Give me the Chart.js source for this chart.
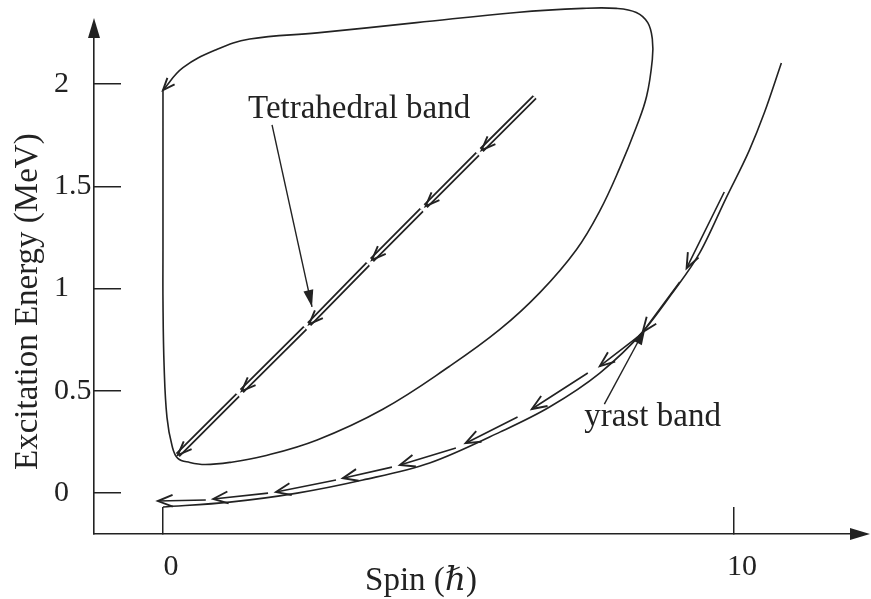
<!DOCTYPE html>
<html>
<head>
<meta charset="utf-8">
<script src="https://cdn.jsdelivr.net/npm/chart.js@4.4.1/dist/chart.umd.min.js"></script>
<style>
  html, body { margin: 0; padding: 0; background: #ffffff; }
  #wrap { width: 871px; height: 599px; }
</style>
</head>
<body>
<div id="wrap"><canvas id="c" width="871" height="599"></canvas></div>
<script>
// Spin (hbar) and excitation energy (MeV) along each band

// closed loop around the tetrahedral band
const loopSpin   = [0, 0, 0, 0, 0.02, 0.07, 0.16, 0.26, 0.47, 0.74, 1.17, 1.75, 2.70, 3.85, 5.02, 5.90, 6.60, 7.24, 7.65, 8.00, 8.29, 8.47, 8.57, 8.57, 8.49, 8.29, 7.94, 7.35, 6.19, 4.44, 2.70, 1.52, 0.95, 0.35, 0];
const loopEnergy = [1.97, 1.68, 1.19, 0.94, 0.62, 0.37, 0.23, 0.17, 0.15, 0.14, 0.15, 0.18, 0.26, 0.41, 0.62, 0.80, 0.98, 1.19, 1.38, 1.59, 1.79, 1.94, 2.12, 2.22, 2.30, 2.35, 2.37, 2.37, 2.35, 2.30, 2.25, 2.22, 2.17, 2.08, 1.97];

// yrast band
const yrastSpin   = [0, 1.17, 2.35, 3.50, 4.67, 5.90, 6.77, 7.65, 8.40, 8.92, 9.40, 9.87, 10.27, 10.53, 10.83];
const yrastEnergy = [-0.068, -0.044, 0.0, 0.064, 0.147, 0.298, 0.421, 0.587, 0.787, 0.978, 1.174, 1.447, 1.677, 1.858, 2.103];

// tetrahedral band, drawn as arrowed pieces (upper end -> lower end)
const tetraFromSpin   = [6.51, 5.51, 4.53, 3.59, 2.49, 1.31];
const tetraFromEnergy = [1.936, 1.658, 1.384, 1.120, 0.807, 0.479];
const tetraToSpin     = [5.58, 4.60, 3.66, 2.56, 1.38, 0.26];
const tetraToEnergy   = [1.677, 1.403, 1.140, 0.826, 0.499, 0.186];

// decay path beside the yrast band
const trackFromSpin   = [9.83, 9.05, 8.31, 7.44, 6.21, 5.13, 4.01, 3.03, 1.84, 0.75];
const trackFromEnergy = [1.472, 1.032, 0.763, 0.587, 0.372, 0.220, 0.127, 0.064, 0.000, -0.034];
const trackToSpin     = [9.17, 8.40, 7.65, 6.46, 5.30, 4.15, 3.15, 1.98, 0.88, -0.09];
const trackToEnergy   = [1.100, 0.787, 0.621, 0.411, 0.244, 0.137, 0.073, 0.005, -0.029, -0.039];

// label pointers and label anchors
const tetraPointerSpin   = [1.91, 2.61];
const tetraPointerEnergy = [1.80, 0.91];
const yrastPointerSpin   = [7.73, 8.45];
const yrastPointerEnergy = [0.435, 0.807];
const bandLabels      = ['Tetrahedral band', 'yrast band'];
const bandLabelSpin   = [1.49, 7.38];
const bandLabelEnergy = [1.834, 0.328];

// axes
const xTickValues = [0, 10];
const xTickLabels = ['0', '10'];
const yTickValues = [0, 0.5, 1, 1.5, 2];
const yTickLabels = ['0', '0.5', '1', '1.5', '2'];
const xTitle = 'Spin (\u210F)';
const yTitle = 'Excitation Energy (MeV)';

const INK = '#222222';
const SERIF = '"Liberation Serif", "DejaVu Serif", serif';

const pairs = (xs, ys) => xs.map((v, i) => ({ x: v, y: ys[i] }));
function pieces(fx, fy, tx, ty) {
  const out = [];
  fx.forEach((v, i) => {
    if (i > 0) out.push({ x: null, y: null });
    out.push({ x: v, y: fy[i] }, { x: tx[i], y: ty[i] });
  });
  return out;
}

const tetraData = pieces(tetraFromSpin, tetraFromEnergy, tetraToSpin, tetraToEnergy);

const datasets = [
  { data: tetraData, borderColor: '#ffffff', borderWidth: 2, order: 0, tension: 0, borderCapStyle: 'butt' },
  { data: tetraData, borderColor: INK, borderWidth: 5.6, order: 1, tension: 0, borderCapStyle: 'butt', arrowHead: 'open', arrowLen: 15 },
  { data: pairs(loopSpin, loopEnergy), borderColor: INK, borderWidth: 1.6, order: 2, tension: 0.4, arrowHead: 'open', arrowLen: 13 },
  { data: pairs(yrastSpin, yrastEnergy), borderColor: INK, borderWidth: 1.6, order: 2, cubicInterpolationMode: 'monotone' },
  { data: pieces(trackFromSpin, trackFromEnergy, trackToSpin, trackToEnergy), borderColor: INK, borderWidth: 1.6, order: 2, tension: 0, arrowHead: 'open', arrowLen: 16 },
  { data: pairs(tetraPointerSpin, tetraPointerEnergy), borderColor: INK, borderWidth: 1.4, order: 2, tension: 0, arrowHead: 'filled', arrowLen: 17 },
  { data: pairs(yrastPointerSpin, yrastPointerEnergy), borderColor: INK, borderWidth: 1.4, order: 2, tension: 0, arrowHead: 'filled', arrowLen: 17 }
];
datasets.forEach(d => { d.pointRadius = 0; d.clip = false; d.fill = false; d.spanGaps = false; });

function drawOpen(ctx, tx, ty, ang, len, spread) {
  ctx.beginPath();
  ctx.moveTo(tx + len * Math.cos(ang - spread), ty + len * Math.sin(ang - spread));
  ctx.lineTo(tx, ty);
  ctx.lineTo(tx + len * Math.cos(ang + spread), ty + len * Math.sin(ang + spread));
  ctx.stroke();
}
function drawFilled(ctx, tx, ty, ang, len, half) {
  const bx = tx + len * Math.cos(ang), by = ty + len * Math.sin(ang);
  const nx = -Math.sin(ang) * half, ny = Math.cos(ang) * half;
  ctx.beginPath();
  ctx.moveTo(tx, ty);
  ctx.lineTo(bx + nx, by + ny);
  ctx.lineTo(bx - nx, by - ny);
  ctx.closePath();
  ctx.fill();
}

const decor = {
  id: 'decor',
  afterDatasetsDraw(chart) {
    const { ctx, chartArea: a, scales: { x, y } } = chart;
    ctx.save();
    ctx.strokeStyle = INK;
    ctx.fillStyle = INK;
    ctx.lineWidth = 1.9;
    ctx.lineJoin = 'miter';

    // axis arrowheads
    drawFilled(ctx, a.left, a.top - 20, Math.PI / 2, 20, 6);
    drawFilled(ctx, a.right + 18, a.bottom, Math.PI, 20, 6);

    // arrowheads at the lower end of every drawn piece
    chart.data.datasets.forEach((ds, di) => {
      if (!ds.arrowHead) return;
      const pts = chart.getDatasetMeta(di).data;
      for (let i = 1; i < pts.length; i++) {
        const p = pts[i], q = pts[i - 1], n = pts[i + 1];
        if (p.skip || q.skip) continue;
        if (n && !n.skip) continue;
        const ang = Math.atan2(q.y - p.y, q.x - p.x);
        if (ds.arrowHead === 'filled') drawFilled(ctx, p.x, p.y, ang, ds.arrowLen, 5);
        else drawOpen(ctx, p.x, p.y, ang, ds.arrowLen, 0.38);
      }
    });

    // band labels
    ctx.font = '33px ' + SERIF;
    ctx.textAlign = 'left';
    ctx.textBaseline = 'alphabetic';
    bandLabels.forEach((t, i) => {
      ctx.fillText(t, x.getPixelForValue(bandLabelSpin[i]), y.getPixelForValue(bandLabelEnergy[i]));
    });

    // axis titles
    ctx.textAlign = 'center';
    ctx.fillText(xTitle, x.getPixelForValue(4.52), a.bottom + 56);
    ctx.translate(37, y.getPixelForValue(0.936));
    ctx.rotate(-Math.PI / 2);
    ctx.fillText(yTitle, 0, 0);
    ctx.restore();
  }
};

new Chart(document.getElementById('c'), {
  type: 'line',
  data: { datasets },
  plugins: [decor],
  options: {
    responsive: false,
    animation: false,
    devicePixelRatio: 1,
    layout: { padding: { left: 54, top: 38, right: 19, bottom: 0 } },
    elements: { line: { capBezierPoints: false } },
    plugins: { legend: { display: false }, tooltip: { enabled: false } },
    scales: {
      x: {
        type: 'linear',
        min: -1.208,
        max: 12.067,
        afterFit: s => { s.height = 65; },
        afterBuildTicks: s => { s.ticks = xTickValues.map(v => ({ value: v })); },
        grid: { display: true, drawOnChartArea: false, drawTicks: true, tickLength: -27, color: INK, lineWidth: 1.5 },
        border: { display: true, color: INK, width: 1.6 },
        ticks: {
          autoSkip: false, maxRotation: 0, padding: 42, labelOffset: 8, color: INK,
          font: { family: SERIF, size: 30 },
          callback: (v) => xTickLabels[xTickValues.indexOf(v)]
        }
      },
      y: {
        type: 'linear',
        min: -0.2,
        max: 2.225,
        afterFit: s => { s.width = 40; },
        afterBuildTicks: s => { s.ticks = yTickValues.map(v => ({ value: v })); },
        grid: { display: true, drawOnChartArea: false, drawTicks: true, tickLength: -27, color: INK, lineWidth: 1.5 },
        border: { display: true, color: INK, width: 1.6 },
        ticks: {
          autoSkip: false, crossAlign: 'far', color: INK,
          font: { family: SERIF, size: 30 },
          callback: (v) => yTickLabels[yTickValues.indexOf(v)]
        }
      }
    }
  }
});
</script>
</body>
</html>
